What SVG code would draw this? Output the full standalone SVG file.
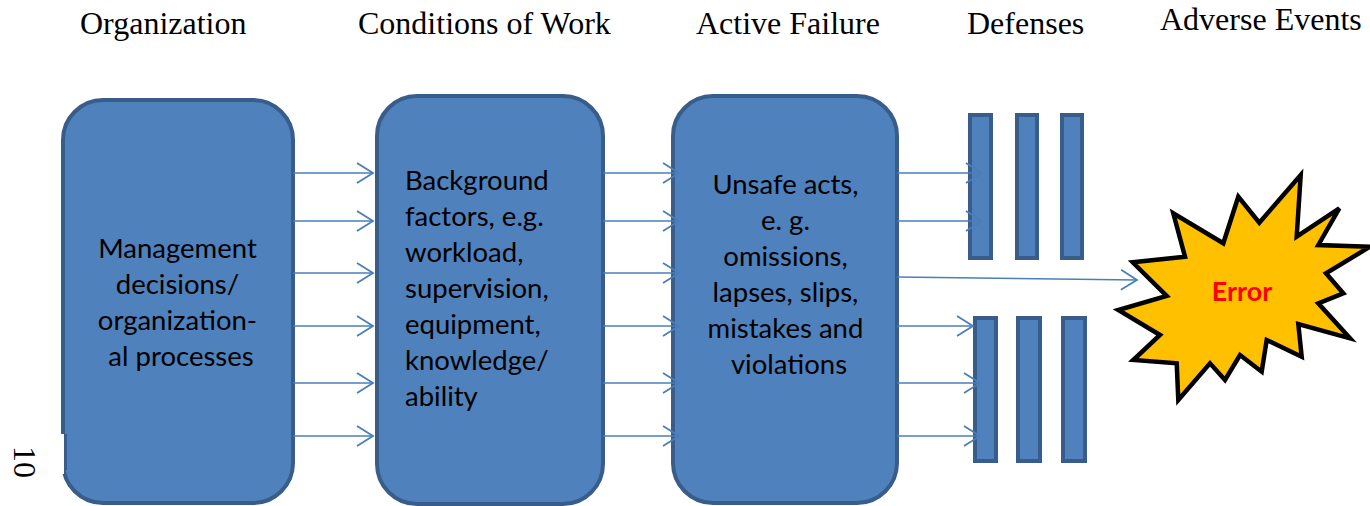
<svg xmlns="http://www.w3.org/2000/svg" width="1370" height="506" viewBox="0 0 1370 506">
<defs>
<style>
.hdr{font-family:"Liberation Serif","Times New Roman",serif;font-size:32px;fill:#000}
.body{font-family:Lato,"Liberation Sans",sans-serif;font-size:27.5px;fill:#000}
.box{fill:#4f81bd;stroke:#385d8a;stroke-width:4}
.bar{fill:#4f81bd;stroke:#385d8a;stroke-width:4}
.conn{stroke:#4a7ebb;stroke-width:1.6;fill:none}
</style>
<marker id="ah" markerUnits="userSpaceOnUse" markerWidth="24" markerHeight="24" viewBox="-18 -12 20 24" refX="0" refY="0" orient="auto">
<path d="M-16,-10 L0,0 L-16,10" fill="none" stroke="#4a7ebb" stroke-width="1.8"/>
</marker>
</defs>
<rect width="1370" height="506" fill="#fff"/>
<g id="headers">
<text class="hdr" x="80" y="34">Organization</text>
<text class="hdr" x="358" y="34">Conditions of Work</text>
<text class="hdr" x="696" y="34">Active Failure</text>
<text class="hdr" x="967" y="34">Defenses</text>
<text class="hdr" x="1160" y="30">Adverse Events</text>
</g>
<g id="pagenum">
<text class="hdr" font-size="29" transform="translate(14,446) rotate(90)">10</text>
</g>
<g id="organization">
<rect class="box" x="63" y="100" width="230" height="403" rx="40"/>
<rect x="58" y="434" width="6" height="40" fill="#fff"/>
<line x1="65.5" y1="434" x2="65.5" y2="470" stroke="#385d8a" stroke-width="3"/>
<text class="body" text-anchor="middle">
<tspan x="181" y="258">Management</tspan>
<tspan x="181" y="294">decisions/</tspan>
<tspan x="181" y="330">organization-</tspan>
<tspan x="181" y="366">al processes</tspan>
</text>
</g>
<g id="conditions">
<rect class="box" x="377" y="96" width="226" height="408" rx="40"/>
<text class="body">
<tspan x="405" y="190">Background</tspan>
<tspan x="405" y="226">factors, e.g.</tspan>
<tspan x="405" y="262">workload,</tspan>
<tspan x="405" y="298">supervision,</tspan>
<tspan x="405" y="334">equipment,</tspan>
<tspan x="405" y="370">knowledge/</tspan>
<tspan x="405" y="406">ability</tspan>
</text>
</g>
<g id="active-failure">
<rect class="box" x="673" y="96" width="224" height="407" rx="40"/>
<text class="body" text-anchor="middle">
<tspan x="789" y="194">Unsafe acts,</tspan>
<tspan x="789" y="230">e. g.</tspan>
<tspan x="789" y="266">omissions,</tspan>
<tspan x="789" y="302">lapses, slips,</tspan>
<tspan x="789" y="338">mistakes and</tspan>
<tspan x="789" y="374">violations</tspan>
</text>
</g>
<g id="defenses-top">
<rect class="bar" x="970" y="115" width="21" height="143"/>
<rect class="bar" x="1017" y="115" width="20" height="143"/>
<rect class="bar" x="1062" y="115" width="20" height="143"/>
</g>
<g id="defenses-bottom">
<rect class="bar" x="975" y="318" width="21" height="143"/>
<rect class="bar" x="1018" y="318" width="22" height="143"/>
<rect class="bar" x="1063" y="318" width="22" height="143"/>
</g>
<g id="error">
<polygon points="1300.7,175 1296.7,236.7 1339.3,208.3 1318.3,245 1370,246.7 1326,273.3 1343.3,293.3 1318.3,303.3 1350,338.3 1298.3,324 1301.7,356.7 1266.7,340 1261.7,371.7 1240,355 1225,380 1210,363.3 1178.3,400 1176.7,363.3 1133.3,360 1160,335 1118.3,310 1166.7,296 1132.7,262.3 1185,256.7 1173.3,213.3 1223.3,243.3 1238.3,196.7 1259.3,222.7" fill="#ffc000" stroke="#000" stroke-width="4.5" stroke-linejoin="miter"/>
<text x="1242" y="301" text-anchor="middle" font-family="Lato,'Liberation Sans',sans-serif" font-weight="bold" font-size="27" fill="#ff0000">Error</text>
</g>
<g id="connectors" class="conn" marker-end="url(#ah)">
<line x1="293" y1="173" x2="373" y2="173"/>
<line x1="293" y1="221" x2="373" y2="221"/>
<line x1="293" y1="273" x2="373" y2="273"/>
<line x1="293" y1="326" x2="373" y2="326"/>
<line x1="293" y1="383" x2="373" y2="383"/>
<line x1="293" y1="436" x2="373" y2="436"/>
<line x1="603" y1="173" x2="679" y2="173"/>
<line x1="603" y1="221" x2="679" y2="221"/>
<line x1="603" y1="273" x2="679" y2="273"/>
<line x1="603" y1="326" x2="679" y2="326"/>
<line x1="603" y1="383" x2="679" y2="383"/>
<line x1="603" y1="436" x2="679" y2="436"/>
<line x1="897" y1="173" x2="982" y2="173"/>
<line x1="897" y1="221" x2="982" y2="221"/>
<line x1="897" y1="277" x2="1137" y2="280"/>
<line x1="897" y1="326" x2="973" y2="326"/>
<line x1="897" y1="383" x2="980" y2="383"/>
<line x1="897" y1="436" x2="980" y2="436"/>
</g>
</svg>
